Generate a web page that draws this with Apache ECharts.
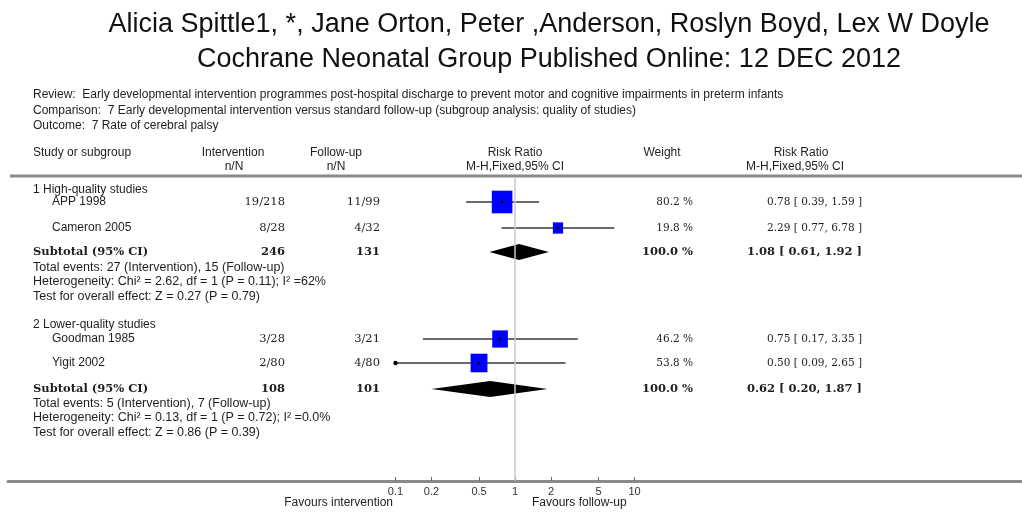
<!DOCTYPE html>
<html><head><meta charset="utf-8">
<script src="https://cdn.jsdelivr.net/npm/echarts@6.0.0/dist/echarts.min.js"></script>
<style>html,body{margin:0;padding:0;background:#fff}#c{width:1022px;height:513px}</style>
</head><body><div id="c"></div>
<script>
// ---------------- DATA ----------------
const groups = ['1 High-quality studies', '2 Lower-quality studies'];
const studies = ['APP 1998', 'Cameron 2005', 'Goodman 1985', 'Yigit 2002'];
const interventionNN = ['19/218', '8/28', '3/28', '2/80'];
const followupNN = ['11/99', '4/32', '3/21', '4/80'];
const weights = [80.2, 19.8, 46.2, 53.8];
const rr = [0.78, 2.29, 0.75, 0.50];
const rrLo = [0.39, 0.77, 0.17, 0.09];
const rrHi = [1.59, 6.78, 3.35, 2.65];
const subIntN = [246, 108];
const subFuN = [131, 101];
const subWeight = [100.0, 100.0];
const subRR = [1.08, 0.62];
const subLo = [0.61, 0.20];
const subHi = [1.92, 1.87];
const totalEvents = ['Total events: 27 (Intervention), 15 (Follow-up)', 'Total events: 5 (Intervention), 7 (Follow-up)'];
const heterogeneity = ['Heterogeneity: Chi\u00b2 = 2.62, df = 1 (P = 0.11); I\u00b2 =62%', 'Heterogeneity: Chi\u00b2 = 0.13, df = 1 (P = 0.72); I\u00b2 =0.0%'];
const overallEffect = ['Test for overall effect: Z = 0.27 (P = 0.79)', 'Test for overall effect: Z = 0.86 (P = 0.39)'];
const tickValues = [0.1, 0.2, 0.5, 1, 2, 5, 10];
const tickLabels = ['0.1', '0.2', '0.5', '1', '2', '5', '10'];
const titleLines = ['Alicia Spittle1, *, Jane Orton, Peter ,Anderson, Roslyn Boyd, Lex W Doyle', 'Cochrane Neonatal Group Published Online: 12 DEC 2012'];
const metaLines = ['Review:  Early developmental intervention programmes post-hospital discharge to prevent motor and cognitive impairments in preterm infants',
  'Comparison:  7 Early developmental intervention versus standard follow-up (subgroup analysis: quality of studies)',
  'Outcome:  7 Rate of cerebral palsy'];
const favourLabels = ['Favours intervention', 'Favours follow-up'];

// ---------------- LAYOUT ----------------
const L = {
  gridLeft: 8, gridTop: 177, gridBottom: 32, onePx: 515, decadePx: 119.5, W: 1022,
  groupY: [190, 325], studyY: [202, 228, 339, 363], subY: [252, 389],
  eventsY: [268, 404], hetY: [282, 418], testY: [297, 433],
  xName: 33, xStudy: 52, xInt: 285, xFu: 380, xWeight: 693, xCI: 862,
  boxK: 2.3
};
const sans = '"Liberation Sans", Arial, sans-serif';
const dserif = '"DejaVu Serif", serif';
const fTable = '12px ' + sans;
const fNote = '12.5px ' + sans;
const fNN = '11.5px ' + dserif;
const fNum = '10.5px ' + dserif;
const fBold = 'bold 11.5px ' + dserif;
const fTitle = '27px ' + sans;
const txtCol = '#1e1e1e';

const lg = Math.log10;
const xMin = (L.gridLeft - L.onePx) / L.decadePx;
const xMax = (L.W - L.onePx) / L.decadePx;
const axisLow = tickValues[0];

function fmtCI(v, a, b) { return v.toFixed(2) + ' [ ' + a.toFixed(2) + ', ' + b.toFixed(2) + ' ]'; }
function txt(x, y, s, font, align) {
  return { type: 'text', x: x, y: y, style: { text: s, font: font, fill: txtCol, align: align || 'left', verticalAlign: 'middle' } };
}
function gtxt(x, y, s, font, align, fill) {
  return { type: 'text', x: x, y: y, silent: true, style: { text: s, font: font, fill: fill || txtCol, align: align || 'left', verticalAlign: 'middle' } };
}

const chart = echarts.init(document.getElementById('c'), null, { renderer: 'canvas' });

const studyData = studies.map((s, i) => [lg(rr[i]), L.studyY[i]]);
const subData = subRR.map((v, g) => [lg(v), L.subY[g]]);

const option = {
  animation: false,
  backgroundColor: '#fff',
  grid: { left: L.gridLeft, right: 0, top: L.gridTop, bottom: L.gridBottom, containLabel: false },
  xAxis: {
    type: 'value', min: xMin, max: xMax,
    axisLine: { show: true, lineStyle: { color: '#8a8a8a', width: 3 } },
    axisTick: { show: true, inside: true, length: 4, customValues: tickValues.map(lg), lineStyle: { color: '#666', width: 1 } },
    axisLabel: {
      show: true, customValues: tickValues.map(lg), margin: 5, color: '#333', fontSize: 11, fontFamily: sans,
      formatter: v => { let k = 0, d = 1e9; tickValues.forEach((t, i) => { const dd = Math.abs(lg(t) - v); if (dd < d) { d = dd; k = i; } }); return tickLabels[k]; }
    },
    splitLine: { show: false }
  },
  yAxis: { type: 'value', inverse: true, min: L.gridTop, max: 513 - L.gridBottom, show: false },
  graphic: [
    gtxt(549, 25, titleLines[0], fTitle, 'center', '#111'),
    gtxt(549, 60, titleLines[1], fTitle, 'center', '#111'),
    gtxt(33, 95, metaLines[0], fTable),
    gtxt(33, 111, metaLines[1], fTable),
    gtxt(33, 126, metaLines[2], fTable),
    gtxt(33, 153, 'Study or subgroup', fTable),
    gtxt(233, 153, 'Intervention', fTable, 'center'),
    gtxt(234, 167, 'n/N', fTable, 'center'),
    gtxt(336, 153, 'Follow-up', fTable, 'center'),
    gtxt(336, 167, 'n/N', fTable, 'center'),
    gtxt(515, 153, 'Risk Ratio', fTable, 'center'),
    gtxt(515, 167, 'M-H,Fixed,95% CI', fTable, 'center'),
    gtxt(662, 153, 'Weight', fTable, 'center'),
    gtxt(801, 153, 'Risk Ratio', fTable, 'center'),
    gtxt(795, 167, 'M-H,Fixed,95% CI', fTable, 'center'),
    { type: 'line', silent: true, shape: { x1: 10, y1: 176, x2: 1022, y2: 176 }, style: { stroke: '#8a8a8a', lineWidth: 3 } },
    gtxt(393, 503, favourLabels[0], fTable, 'right'),
    gtxt(532, 503, favourLabels[1], fTable, 'left')
  ],
  series: [
    {
      type: 'custom', name: 'studies', clip: false,
      encode: { x: 0, y: 1 },
      data: studyData,
      markLine: {
        silent: true, symbol: 'none', label: { show: false },
        lineStyle: { color: '#c8c8c8', width: 1.5, type: 'solid' },
        data: [{ xAxis: 0 }]
      },
      renderItem: function (params, api) {
        const i = params.dataIndex;
        const y = api.coord([0, api.value(1)])[1];
        const xc = api.coord([api.value(0), 0])[0];
        const lowClipped = rrLo[i] < axisLow;
        const xl = api.coord([lg(Math.max(rrLo[i], axisLow)), 0])[0];
        const xh = api.coord([lg(rrHi[i]), 0])[0];
        const w = L.boxK * Math.sqrt(weights[i]);
        const h = w * 1.1;
        const children = [
          { type: 'line', shape: { x1: xl, y1: y, x2: xh, y2: y }, style: { stroke: '#3a3a3a', lineWidth: 1.5 } },
          { type: 'rect', shape: { x: xc - w / 2, y: y - h / 2, width: w, height: h }, style: { fill: '#0000ff' } },
          { type: 'circle', shape: { cx: xc, cy: y, r: 1.5 }, style: { fill: '#000' } },
          txt(L.xStudy, y, studies[i], fTable, 'left'),
          txt(L.xInt, y, interventionNN[i], fNN, 'right'),
          txt(L.xFu, y, followupNN[i], fNN, 'right'),
          txt(L.xWeight, y, weights[i].toFixed(1) + ' %', fNum, 'right'),
          txt(L.xCI, y, fmtCI(rr[i], rrLo[i], rrHi[i]), fNum, 'right')
        ];
        if (lowClipped) children.push({ type: 'circle', shape: { cx: xl, cy: y, r: 2.2 }, style: { fill: '#000' } });
        return { type: 'group', children: children };
      }
    },
    {
      type: 'custom', name: 'subtotals', clip: false,
      encode: { x: 0, y: 1 },
      data: subData,
      renderItem: function (params, api) {
        const g = params.dataIndex;
        const y = api.coord([0, api.value(1)])[1];
        const xc = api.coord([api.value(0), 0])[0];
        const xl = api.coord([lg(subLo[g]), 0])[0];
        const xh = api.coord([lg(subHi[g]), 0])[0];
        const hh = 8;
        const yg = api.coord([0, L.groupY[g]])[1];
        const ye = api.coord([0, L.eventsY[g]])[1];
        const yh = api.coord([0, L.hetY[g]])[1];
        const yt = api.coord([0, L.testY[g]])[1];
        return {
          type: 'group', children: [
            { type: 'polygon', shape: { points: [[xl, y], [xc, y - hh], [xh, y], [xc, y + hh]] }, style: { fill: '#000' } },
            txt(L.xName, yg, groups[g], fTable, 'left'),
            txt(L.xName, y, 'Subtotal (95% CI)', fBold, 'left'),
            txt(L.xInt, y, String(subIntN[g]), fBold, 'right'),
            txt(L.xFu, y, String(subFuN[g]), fBold, 'right'),
            txt(L.xWeight, y, subWeight[g].toFixed(1) + ' %', fBold, 'right'),
            txt(L.xCI, y, fmtCI(subRR[g], subLo[g], subHi[g]), fBold, 'right'),
            txt(L.xName, ye, totalEvents[g], fNote, 'left'),
            txt(L.xName, yh, heterogeneity[g], fNote, 'left'),
            txt(L.xName, yt, overallEffect[g], fNote, 'left')
          ]
        };
      }
    }
  ]
};
chart.setOption(option);
</script></body></html>
